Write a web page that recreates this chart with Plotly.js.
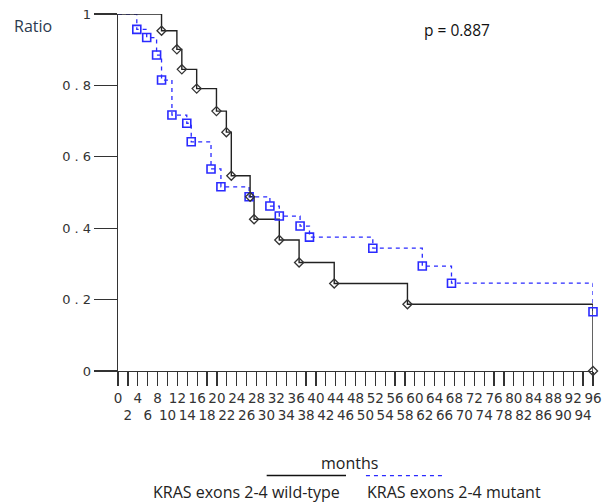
<!DOCTYPE html>
<html>
<head>
<meta charset="utf-8">
<script src="https://cdn.plot.ly/plotly-3.0.1.min.js"></script>
<style>html,body{margin:0;padding:0;background:#fff;}#chart{width:606px;height:502px;}</style>
</head>
<body>
<div id="chart"></div>
<script>
// Wild-type: event times (months) and survival ratio after each event
var wtTimes = [8.8, 11.9, 12.9, 15.9, 19.9, 21.9, 22.9, 26.7, 27.5, 32.6, 36.6, 43.7, 58.5, 96];
var wtRatio = [0.953, 0.901, 0.845, 0.791, 0.728, 0.669, 0.547, 0.488, 0.425, 0.367, 0.304, 0.245, 0.187, 0.0];
// Mutant
var mtTimes = [3.8, 5.8, 7.8, 8.8, 10.9, 13.9, 14.8, 18.8, 20.8, 26.5, 30.7, 32.6, 36.8, 38.7, 51.5, 61.5, 67.4, 96];
var mtRatio = [0.957, 0.934, 0.885, 0.815, 0.717, 0.694, 0.642, 0.566, 0.516, 0.488, 0.462, 0.434, 0.406, 0.375, 0.344, 0.294, 0.246, 0.166];

var xTickVals = [];
var xTickText = [];
for (var m = 0; m <= 96; m += 2) {
  xTickVals.push(m);
  xTickText.push(m % 4 === 0 ? String(m) : "\u00a0<br>" + m);
}
var yTickVals = [0, 0.2, 0.4, 0.6, 0.8, 1];
var yTickText = ["0", "0 . 2", "0 . 4", "0 . 6", "0 . 8", "1"];

function stepLine(times, ratios) {
  var xs = [0], ys = [1];
  for (var i = 0; i < times.length; i++) {
    xs.push(times[i]); ys.push(ys[ys.length - 1]);
    xs.push(times[i]); ys.push(ratios[i]);
  }
  return {x: xs, y: ys};
}
var wtStep = stepLine(wtTimes, wtRatio);
var mtStep = stepLine(mtTimes, mtRatio);

var traces = [
  {x: mtStep.x, y: mtStep.y, mode: 'lines', line: {color: '#2a2aff', width: 1.3, dash: '4px,4px'}, cliponaxis: false, showlegend: false, hoverinfo: 'skip'},
  {x: wtStep.x, y: wtStep.y, mode: 'lines', line: {color: '#222', width: 1.4}, cliponaxis: false, showlegend: false, hoverinfo: 'skip'},
  {x: mtTimes, y: mtRatio, mode: 'markers', marker: {symbol: 'square-open', size: 8, color: '#2a2aff', line: {width: 1.6}}, cliponaxis: false, showlegend: false},
  {x: wtTimes, y: wtRatio, mode: 'markers', marker: {symbol: 'diamond-open', size: 7, color: '#333', line: {width: 1.3}}, cliponaxis: false, showlegend: false}
];

var layout = {
  width: 606, height: 502,
  margin: {l: 118, r: 13, t: 14, b: 131},
  paper_bgcolor: '#fff', plot_bgcolor: '#fff',
  showlegend: false,
  xaxis: {
    range: [0, 96], tickmode: 'array', tickvals: xTickVals, ticktext: xTickText,
    ticks: 'outside', ticklen: 14, tickwidth: 1.2, tickcolor: '#333',
    showline: true, linecolor: '#333', linewidth: 1.3, showgrid: false, zeroline: false,
    tickangle: 0, tickfont: {family: 'DejaVu Sans', size: 13.5, color: '#333'}
  },
  yaxis: {
    range: [0, 1], tickmode: 'array', tickvals: yTickVals, ticktext: yTickText,
    ticks: 'outside', ticklen: 23, tickwidth: 1.2, tickcolor: '#333',
    showline: true, linecolor: '#333', linewidth: 1.3, showgrid: false, zeroline: false,
    tickfont: {family: 'DejaVu Sans', size: 13, color: '#333'}
  },
  shapes: [
    {type: 'line', xref: 'paper', yref: 'paper', x0: 0.313, x1: 0.48, y0: -0.293, y1: -0.293, line: {color: '#111', width: 1.5}},
    {type: 'line', xref: 'paper', yref: 'paper', x0: 0.522, x1: 0.685, y0: -0.293, y1: -0.293, line: {color: '#2a2aff', width: 1.3, dash: '4px,4px'}}
  ],
  annotations: [
    {text: 'Ratio', xref: 'paper', yref: 'paper', x: -0.178, y: 0.966, showarrow: false, xanchor: 'center', yanchor: 'middle', font: {family: 'Open Sans', size: 16, color: '#2b3a4f'}},
    {text: 'p = 0.887', xref: 'paper', yref: 'paper', x: 0.714, y: 0.955, showarrow: false, xanchor: 'center', yanchor: 'middle', font: {family: 'Open Sans', size: 15.5, color: '#111'}},
    {text: 'months', xref: 'paper', yref: 'paper', x: 0.488, y: -0.2577, showarrow: false, xanchor: 'center', yanchor: 'middle', font: {family: 'Open Sans', size: 16, color: '#222'}},
    {text: 'KRAS exons 2-4 wild-type', xref: 'paper', yref: 'paper', x: 0.270, y: -0.339, showarrow: false, xanchor: 'center', yanchor: 'middle', font: {family: 'Open Sans', size: 16, color: '#222'}},
    {text: 'KRAS exons 2-4 mutant', xref: 'paper', yref: 'paper', x: 0.708, y: -0.339, showarrow: false, xanchor: 'center', yanchor: 'middle', font: {family: 'Open Sans', size: 16, color: '#222'}}
  ]
};

Plotly.newPlot('chart', traces, layout, {staticPlot: true, displayModeBar: false});
</script>
</body>
</html>
